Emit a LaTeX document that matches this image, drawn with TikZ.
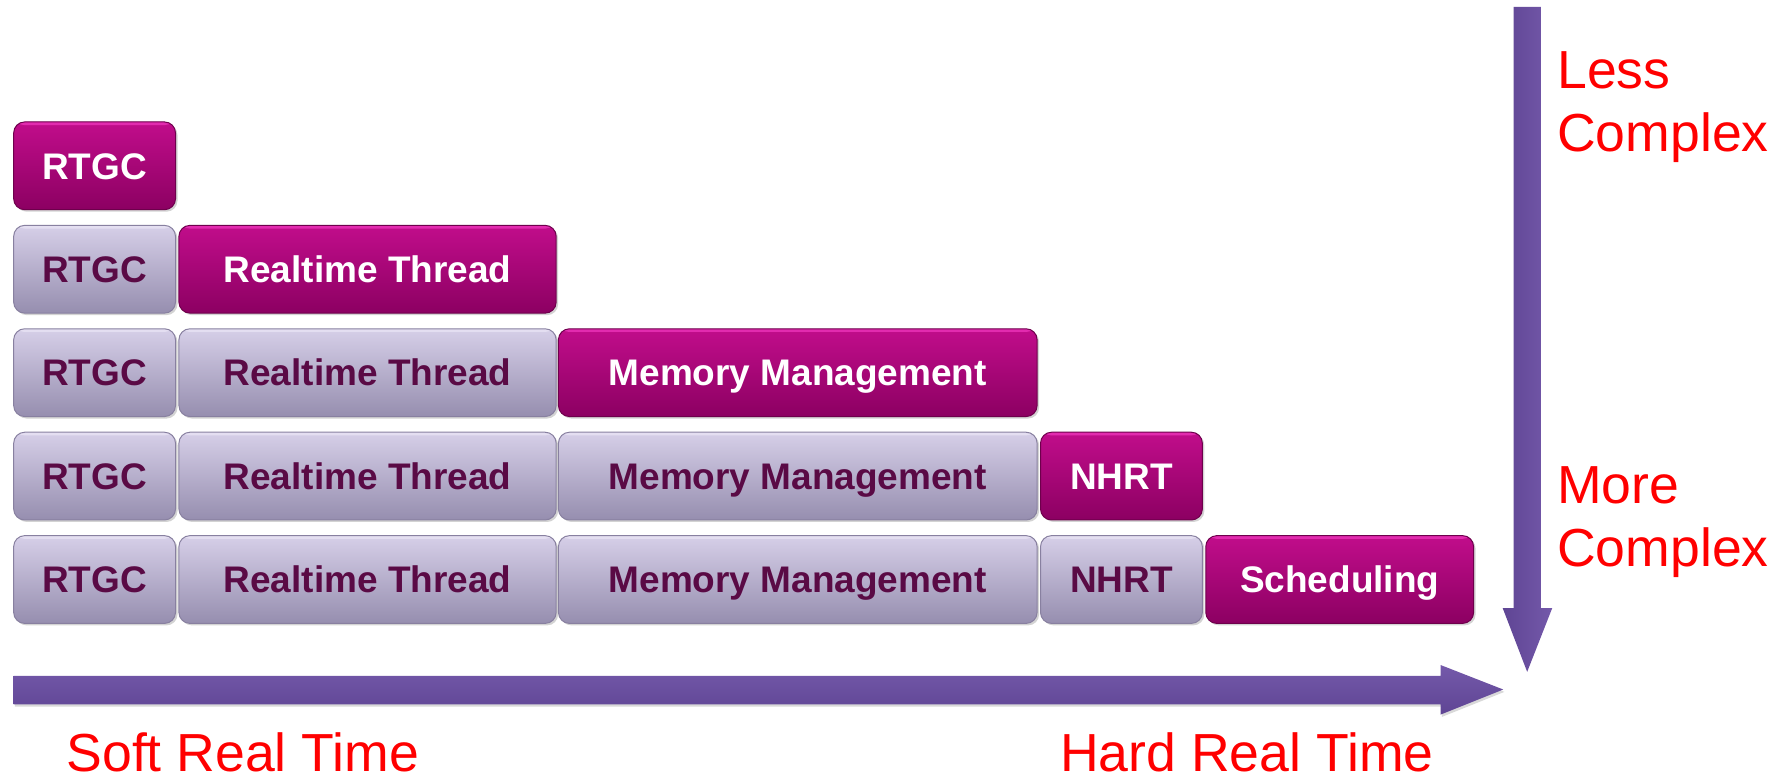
\documentclass[tikz,border=0pt]{standalone}
\usepackage{fontspec}
\setmainfont{Liberation Sans}
\usetikzlibrary{shadows}
\definecolor{magtop}{HTML}{C10D8B}
\definecolor{magbot}{HTML}{8C0062}
\definecolor{magedge}{HTML}{6E004C}
\definecolor{magbright}{HTML}{FF45CF}
\definecolor{lavtop}{HTML}{D6CFE8}
\definecolor{lavbot}{HTML}{968EAF}
\definecolor{lavedge}{HTML}{8880A0}
\definecolor{lavbright}{HTML}{EEEAF8}
\definecolor{lavtext}{HTML}{5A0A45}
\definecolor{arrA}{HTML}{7459AA}
\definecolor{arrB}{HTML}{5F4594}
\definecolor{redtxt}{HTML}{FF0000}
\def\unitpx{0.57pt}
\tikzset{
  blk/.style={rounded corners=5.5pt, inner sep=0pt, minimum height=77*\unitpx,
    font=\fontsize{18.5}{20}\selectfont\bfseries, text height=13.25pt, text depth=0pt,
    drop shadow={opacity=0.35, shadow xshift=1pt, shadow yshift=-1pt}},
  mag/.style={blk, top color=magtop, bottom color=magbot, draw=magedge, line width=0.5pt, text=white,
    path picture={\fill[magbright, opacity=0.55] (path picture bounding box.north west) rectangle ([yshift=-1.6pt]path picture bounding box.north east);}},
  lav/.style={blk, top color=lavtop, bottom color=lavbot, draw=lavedge, line width=0.5pt, text=lavtext,
    path picture={\fill[lavbright, opacity=0.6] (path picture bounding box.north west) rectangle ([yshift=-1.6pt]path picture bounding box.north east);}},
  wA/.style={minimum width=142*\unitpx},
  wB/.style={minimum width=331*\unitpx},
  wC/.style={minimum width=420*\unitpx},
  wD/.style={minimum width=142*\unitpx},
  wE/.style={minimum width=235*\unitpx},
  lbl/.style={inner sep=0pt, text=redtxt, font=\fontsize{26.8}{31}\selectfont, text depth=0pt, anchor=base west},
}
\begin{document}
\begin{tikzpicture}[x=0.57pt,y=-0.57pt]
\useasboundingbox (0,0) rectangle (1568,683);
% row 1
\node[mag,wA] (r1a) at (83,145.5) {RTGC};
% row 2
\node[lav,wA] (r2a) at (83,236.25) {RTGC};
\node[mag,wB] (r2b) at (322.5,236.25) {Realtime Thread};
% row 3
\node[lav,wA] (r3a) at (83,327) {RTGC};
\node[lav,wB] (r3b) at (322.5,327) {Realtime Thread};
\node[mag,wC] (r3c) at (700,327) {Memory Management};
% row 4
\node[lav,wA] (r4a) at (83,417.75) {RTGC};
\node[lav,wB] (r4b) at (322.5,417.75) {Realtime Thread};
\node[lav,wC] (r4c) at (700,417.75) {Memory Management};
\node[mag,wD] (r4d) at (984,417.75) {NHRT};
% row 5
\node[lav,wA] (r5a) at (83,508.5) {RTGC};
\node[lav,wB] (r5b) at (322.5,508.5) {Realtime Thread};
\node[lav,wC] (r5c) at (700,508.5) {Memory Management};
\node[lav,wD] (r5d) at (984,508.5) {NHRT};
\node[mag,wE] (r5e) at (1175.5,508.5) {Scheduling};
% horizontal axis arrow
\coordinate (hstart) at (12,605.5);
\coordinate (htip) at (1319,605);
\path[top color=arrA, bottom color=arrB, drop shadow={opacity=0.3, shadow xshift=0.6pt, shadow yshift=-1.2pt}]
  (12,593) -- (1264,593) -- (1264,583.5) -- (htip) -- (1264,627) -- (1264,618) -- (12,618) -- cycle;
% vertical axis arrow
\coordinate (vstart) at (1340,6);
\coordinate (vtip) at (1340,589.5);
\path[left color=arrB, right color=arrA]
  (1328,6) -- (1352,6) -- (1352,533.5) -- (1362,533.5) -- (vtip) -- (1318.5,533.5) -- (1328,533.5) -- cycle;
% labels
\node[lbl] (less) at (1366,78) {Less};
\node[lbl] (lessc) at (1366,133) {Complex};
\node[lbl] (more) at (1366,442) {More};
\node[lbl] (morec) at (1366,497) {Complex};
\node[lbl] (soft) at (58,677) {Soft Real Time};
\node[lbl] (hard) at (930,677) {Hard Real Time};
\end{tikzpicture}
\end{document}
